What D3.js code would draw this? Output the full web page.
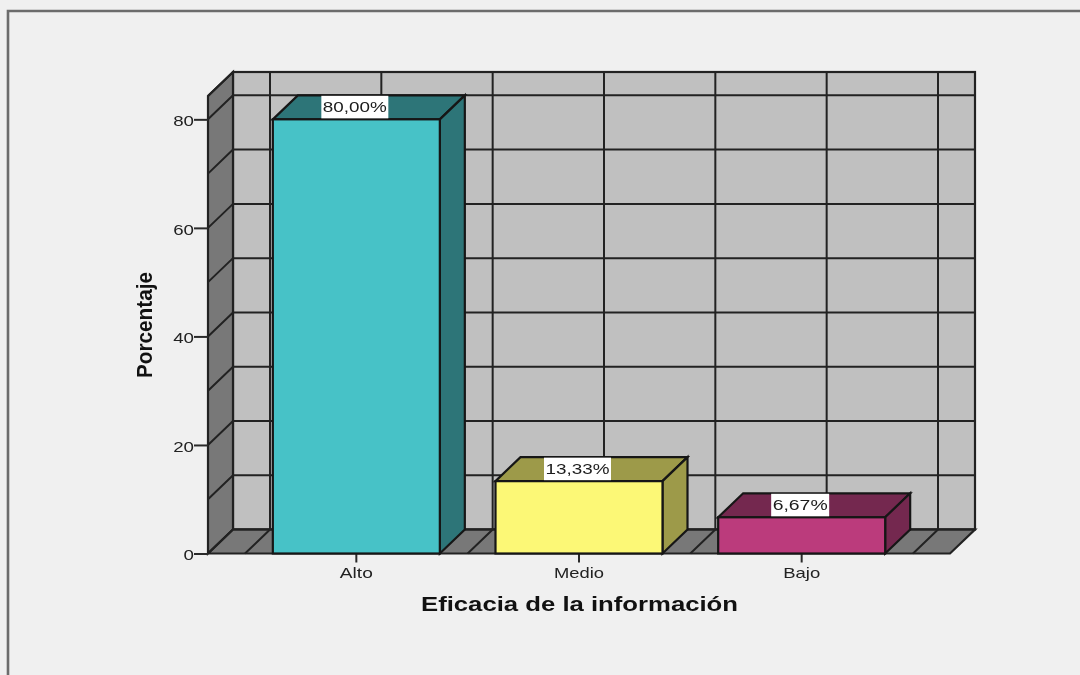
<!DOCTYPE html>
<html><head><meta charset="utf-8">
<script src="https://cdn.jsdelivr.net/npm/d3@7/dist/d3.min.js"></script>
<style>
html,body{margin:0;padding:0;background:#f0f0f0;overflow:hidden}
svg{display:block;filter:blur(0.5px)}
text{font-family:"Liberation Sans",Arial,sans-serif;fill:#1c1c1c}
</style></head><body>
<svg id="c" width="1080" height="675"></svg>
<script>
const categories = ["Alto","Medio","Bajo"];
const values = [80.00,13.33,6.67];
const valueLabels = ["80,00%","13,33%","6,67%"];
const frontColors = ["#47c2c7","#fcf876","#bb3b7c"];
const sideColors = ["#2d7578","#9d9a49","#74284f"];
const yTicks = [0,20,40,60,80];
const yGrid = [0,10,20,30,40,50,60,70,80];
const xTitle = "Eficacia de la información";
const yTitle = "Porcentaje";
const yMax = 84.3;

const svg = d3.select("#c");
const dx = 25, dy = -24, lineCol = "#222";
const leftX = 208, rightX = 950, bottomY = 553.5, topY = 96;
const y = d3.scaleLinear().domain([0,yMax]).range([bottomY,topY]);
const x = d3.scaleBand().domain(categories).range([245,913]).paddingInner(0.25).paddingOuter(0.125);
const gridXs = d3.range(7).map(i => 245 + i*x.step()/2);

// frame
svg.append("path").attr("d",`M8,675V11H1080`).attr("fill","none").attr("stroke","#6c6c6c").attr("stroke-width",2.6);

// walls
const g = svg.append("g");
g.append("rect").attr("x",leftX+dx).attr("y",topY+dy).attr("width",rightX-leftX).attr("height",bottomY-topY)
  .attr("fill","#c0c0c0").attr("stroke",lineCol).attr("stroke-width",2.2);
g.append("path").attr("d",`M${leftX},${bottomY}L${leftX+dx},${bottomY+dy}V${topY+dy}L${leftX},${topY}Z`)
  .attr("fill","#787878").attr("stroke",lineCol).attr("stroke-width",2.2);
g.append("path").attr("d",`M${leftX},${bottomY}L${leftX+dx},${bottomY+dy}H${rightX+dx}L${rightX},${bottomY}Z`)
  .attr("fill","#787878").attr("stroke",lineCol).attr("stroke-width",2.2);

// grid: side wall and back wall horizontals
g.selectAll("path.h").data(yGrid.concat(yMax)).join("path").attr("class","h")
  .attr("d",v=>`M${leftX},${y(v)}L${leftX+dx},${y(v)+dy}H${rightX+dx}`)
  .attr("fill","none").attr("stroke",lineCol).attr("stroke-width",2);
// grid: floor and back wall verticals
g.selectAll("path.v").data(gridXs).join("path").attr("class","v")
  .attr("d",d=>`M${d},${bottomY}L${d+dx},${bottomY+dy}V${topY+dy}`)
  .attr("fill","none").attr("stroke",lineCol).attr("stroke-width",2);

// axes
const ya = svg.append("g").attr("transform",`translate(${leftX},0)`)
  .call(d3.axisLeft(y).tickValues(yTicks).tickSize(14).tickFormat(d3.format("d")));
ya.select(".domain").remove();
ya.selectAll("line").attr("stroke","#2a2a2a").attr("stroke-width",2);
ya.selectAll("text").attr("x",-14).attr("y",0.8).attr("dy","0.36em").attr("font-size",15.5).attr("textLength",d=>String(d).length*10.4).attr("lengthAdjust","spacingAndGlyphs").style("fill","#222");

const xa = svg.append("g").attr("transform",`translate(0,${bottomY})`)
  .call(d3.axisBottom(x).tickSize(9).tickFormat(d=>d));
xa.select(".domain").remove();
xa.selectAll("line").attr("stroke","#2a2a2a").attr("stroke-width",2);
const xLabelLen = {Alto:33,Medio:50,Bajo:37};
xa.selectAll("text").attr("y",19.5).attr("dy","0.36em").attr("font-size",15).attr("textLength",d=>xLabelLen[d]).attr("lengthAdjust","spacingAndGlyphs").style("fill","#222");

// bars
const rows = categories.map((c,i)=>({c,v:values[i],l:valueLabels[i],f:frontColors[i],s:sideColors[i]}));
const bars = svg.selectAll("g.bar").data(rows).join("g").attr("class","bar");
const bw = x.bandwidth();
bars.append("path").attr("d",d=>`M${x(d.c)},${y(d.v)}l${dx},${dy}h${bw}l${-dx},${-dy}Z`)
  .attr("fill",d=>d.s).attr("stroke","#161616").attr("stroke-width",2.2);
bars.append("path").attr("d",d=>`M${x(d.c)+bw},${y(d.v)}l${dx},${dy}V${y(0)+dy}l${-dx},${-dy}Z`)
  .attr("fill",d=>d.s).attr("stroke","#161616").attr("stroke-width",2.2);
bars.append("rect").attr("x",d=>x(d.c)).attr("y",d=>y(d.v)).attr("width",bw).attr("height",d=>y(0)-y(d.v))
  .attr("fill",d=>d.f).attr("stroke","#161616").attr("stroke-width",2.2);

// value labels
const cx = d => x(d.c)+bw/2-1.5;
const labW = d => d.l.length>5?67:58;
bars.append("rect").attr("x",d=>cx(d)-labW(d)/2).attr("y",d=>y(d.v)+dy+0.5).attr("width",labW).attr("height",-dy-1.5).attr("fill","#fff");
bars.append("text").attr("x",cx).attr("y",d=>y(d.v)+dy/2-0.5).attr("dy","0.36em").attr("text-anchor","middle")
  .attr("font-size",15.5).attr("textLength",d=>labW(d)-3).attr("lengthAdjust","spacingAndGlyphs").text(d=>d.l);

// titles
svg.append("text").attr("x",579.5).attr("y",611).attr("text-anchor","middle").attr("font-size",20).attr("font-weight","bold")
  .attr("textLength",317).attr("lengthAdjust","spacingAndGlyphs").style("fill","#111").text(xTitle);
svg.append("text").attr("transform","translate(152,325) rotate(-90)").attr("text-anchor","middle").attr("font-size",22).attr("font-weight","bold")
  .attr("textLength",106).attr("lengthAdjust","spacingAndGlyphs").style("fill","#111").text(yTitle);
</script>
</body></html>
